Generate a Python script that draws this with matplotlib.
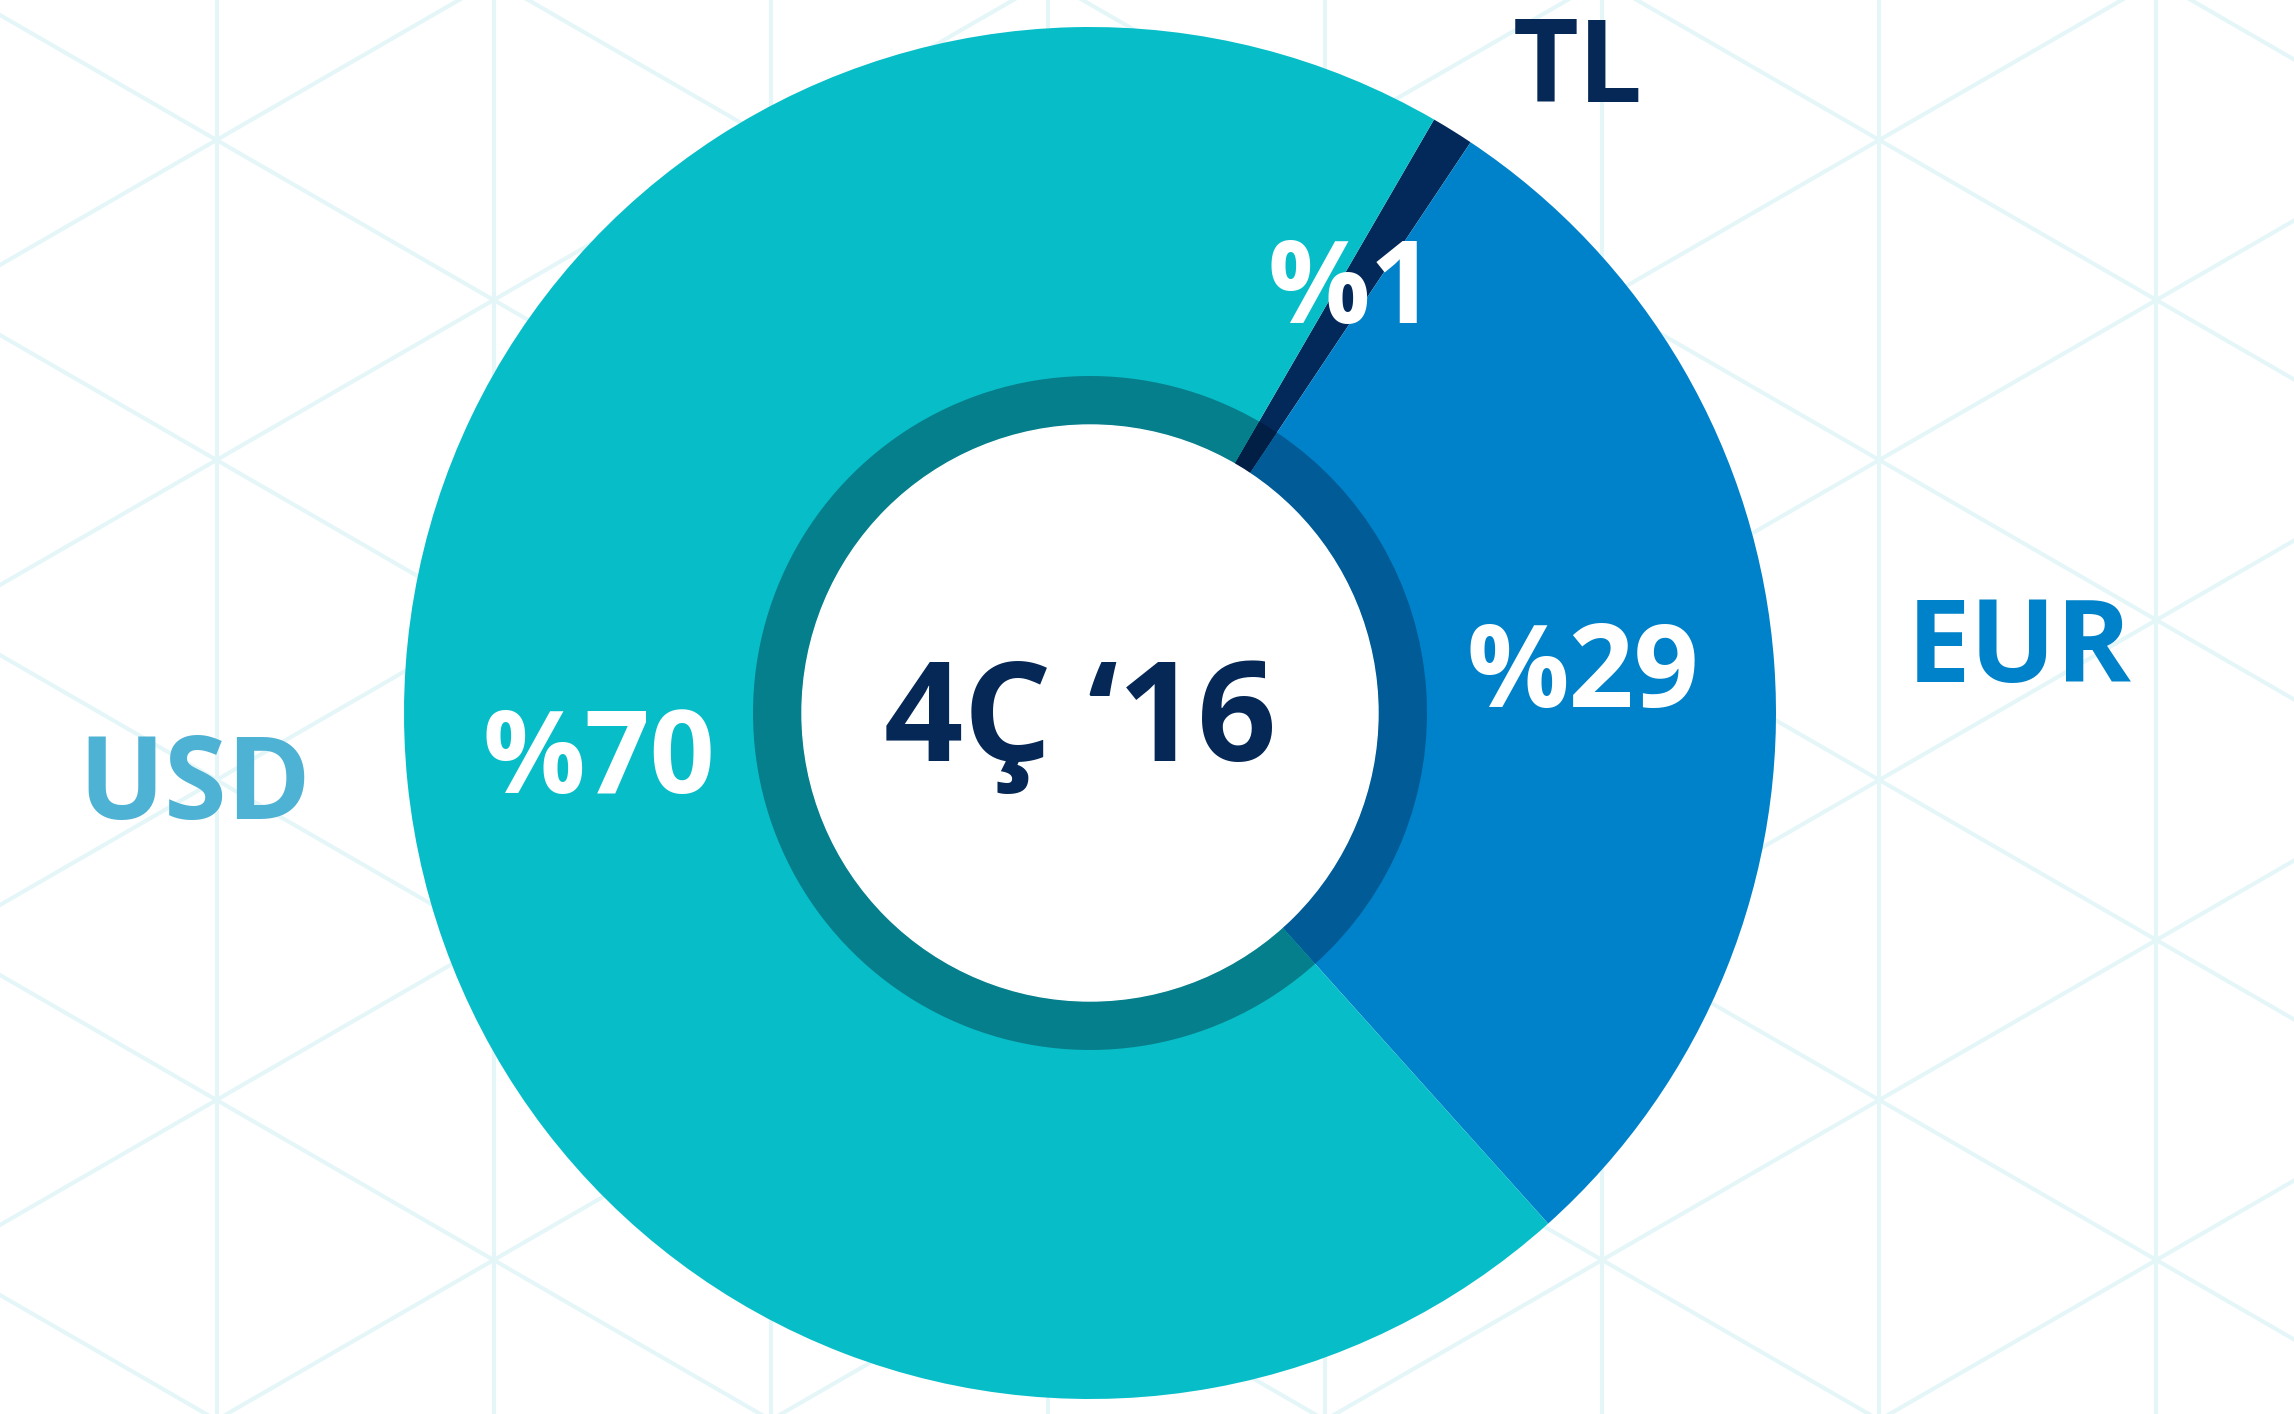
import numpy as np
import matplotlib.pyplot as plt
from matplotlib.patches import Circle

# currency split of the portfolio
currencies = ['TL', 'EUR', 'USD']
shares = [1, 29, 70]
period = '4Ç ‘16'

outer_colors = ['#03295A', '#0082CA', '#07BEC8']
ring_colors = ['#011E45', '#005B96', '#067F8C']
label_colors = ['#052856', '#0082CA', '#4DB2D4']
label_pos = [(1578, 1312), (2019, 732), (195, 595)]

W, H = 2294, 1414
cx, cy = 1090, H - 713
R = 686
font = ['Open Sans', 'DejaVu Sans']

fig = plt.figure(figsize=(W / 100, H / 100), dpi=100)
ax = fig.add_axes([0, 0, 1, 1])

# triangular background grid
grid_color = '#E4F6F8'
side = 320
step = side * np.sqrt(3) / 2
x0, y0 = 216.5, H - 140
for k in range(-1, 10):
    ax.axvline(x0 + k * step, color=grid_color, lw=2.9, zorder=0)
xs = np.array([0, W])
t = np.tan(np.radians(30))
for n in range(-12, 20):
    ax.plot(xs, y0 + (xs - x0) * t + n * side, color=grid_color, lw=2.9, zorder=0)
    ax.plot(xs, y0 - (xs - x0) * t + n * side, color=grid_color, lw=2.9, zorder=0)

wedges, _, pct = ax.pie(shares, colors=outer_colors, radius=R, center=(cx, cy),
                        startangle=59.9, counterclock=False,
                        autopct=lambda p: f'%{p:.0f}', pctdistance=0.72,
                        textprops=dict(color='white', fontsize=82,
                                       fontweight='bold', family=font))
ax.pie(shares, colors=ring_colors, radius=337, center=(cx, cy),
       startangle=59.9, counterclock=False, wedgeprops=dict(width=49))
ax.add_patch(Circle((cx, cy), 288, color='white', zorder=3))
for txt in pct:
    txt.set_zorder(5)

for name, col, (x, y) in zip(currencies, label_colors, label_pos):
    ax.text(x, y, name, color=col, fontsize=82, fontweight='bold',
            family=font, ha='center', va='baseline')

ax.text(1080, 653, period, color='#052856', fontsize=100, fontweight='bold',
        family=font, ha='center', va='baseline', zorder=6)

ax.set_xlim(0, W)
ax.set_ylim(0, H)
ax.set_aspect('equal')
ax.axis('off')

fig.savefig('out.png', dpi=100, facecolor='white')
